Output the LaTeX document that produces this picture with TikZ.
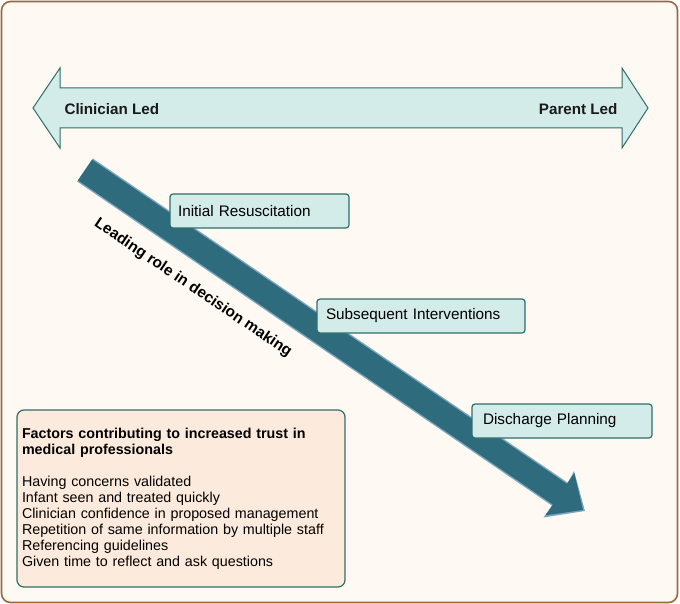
\documentclass[tikz,border=0pt]{standalone}
\usepackage{fontspec}
\setmainfont{Liberation Sans}
\definecolor{bgfill}{HTML}{FEFAF3}
\definecolor{framebr}{HTML}{9A6A3F}
\definecolor{lightteal}{HTML}{D3ECEA}
\definecolor{tealline}{HTML}{2F6E66}
\definecolor{diagblue}{HTML}{2E6B7D}
\definecolor{diagedge}{HTML}{7FA6C0}
\definecolor{peach}{HTML}{FCEBDC}
\begin{document}
\begin{tikzpicture}[x=1pt,y=-1pt,
  stagebox/.style={draw=tealline, line width=1.2pt, fill=lightteal, rounded corners=3pt,
    minimum height=34pt, inner sep=0pt, font=\fontsize{15.3}{16}\selectfont, align=left},
  endlabel/.style={font=\bfseries\fontsize{15.2}{16}\selectfont, text=black!90},
  factorbox/.style={draw=tealline, line width=1.2pt, fill=peach, rounded corners=7pt,
    minimum width=328pt, minimum height=177pt, text width=318pt, align=left, inner sep=0pt,
    font=\fontsize{14.3}{16}\selectfont}]
\useasboundingbox (0,0) rectangle (680,604);
% frame
\draw[framebr, line width=1.6pt, fill=bgfill, rounded corners=9pt] (1.5,1.5) rectangle (677.5,602.5);
% top double arrow
\draw[tealline, line width=1pt, fill=lightteal, line join=miter]
  (33,108) -- (60,68) -- (60,88) -- (622,88) -- (622,68) -- (648,108) -- (622,148)
  -- (622,128) -- (60,128) -- (60,148) -- cycle;
\node[endlabel, anchor=west] (cl) at (61,109) {Clinician Led};
\node[endlabel, anchor=east] (pl) at (621,109) {Parent Led};
% diagonal arrow
\coordinate (ds) at (85,170);
\coordinate (de) at (583,510);
\fill[diagedge] (92.9,158.5) -- (567.8,482.7) -- (574.0,471.0) -- (585,511) -- (543.5,517.5)
  -- (552.0,505.7) -- (77.1,181.5) -- cycle;
\fill[diagblue] (92.05,159.67) -- (566.95,483.87) -- (574.3,473.1) -- (583,510) -- (545.5,515.3)
  -- (552.85,504.53) -- (77.95,180.33) -- cycle;
\node[font=\bfseries\fontsize{15.4}{16}\selectfont, rotate=-34] (lr) at (193,288) {Leading role in decision making};
% stage boxes
\node[stagebox, minimum width=179pt, text width=163pt] (ir) at (259.5,211) {Initial Resuscitation};
\node[stagebox, minimum width=208pt, text width=190pt] (si) at (421,316) {Subsequent Interventions};
\node[stagebox, minimum width=180pt, text width=158pt] (dp) at (562,421) {Discharge Planning};
% factors box
\node[factorbox] (fb) at (181,498.5) {%
  \textbf{Factors contributing to increased trust in\\medical professionals}\\[16pt]
  Having concerns validated\\
  Infant seen and treated quickly\\
  Clinician confidence in proposed management\\
  Repetition of same information by multiple staff\\
  Referencing guidelines\\
  Given time to reflect and ask questions\\[14pt]};
\end{tikzpicture}
\end{document}
